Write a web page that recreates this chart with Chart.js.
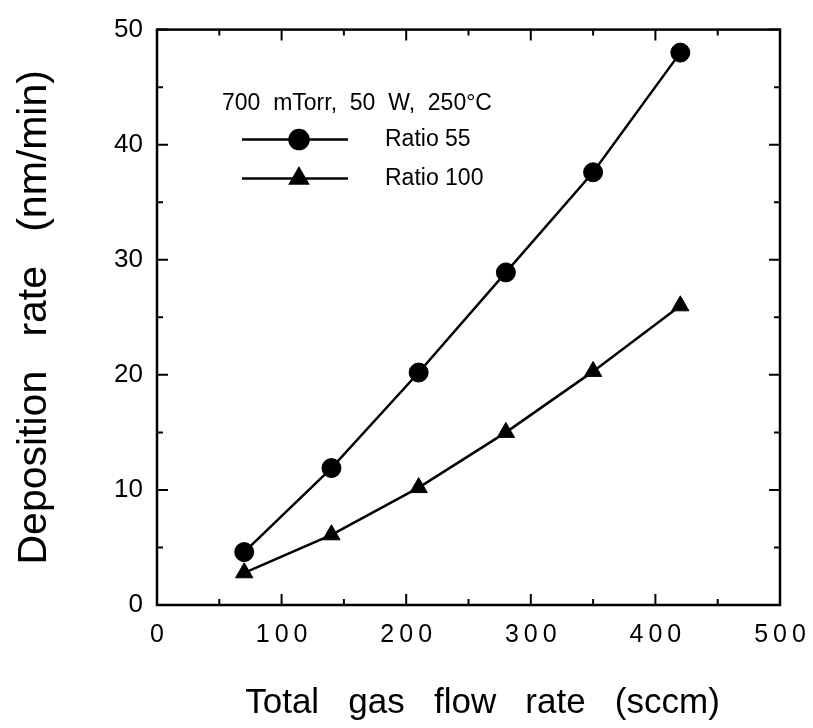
<!DOCTYPE html>
<html lang="en">
<head>
  <meta charset="UTF-8">
  <title>Deposition rate vs total gas flow rate</title>
  <script src="https://cdn.jsdelivr.net/npm/chart.js"></script>
  <style>
    html, body { margin: 0; padding: 0; background: #fff; }
    #wrap { width: 813px; height: 728px; }
  </style>
</head>
<body>
  <div id="wrap"><canvas id="depChart" width="813" height="728"></canvas></div>

  <script>
    // values
    const flowRate = [70, 140, 210, 280, 350, 420];
    const ratio55 = [4.6, 11.9, 20.2, 28.9, 37.6, 48.0];
    const ratio100 = [2.8, 6.1, 10.2, 15.0, 20.3, 26.0];
    const xTickLabels = ["0", "100", "200", "300", "400", "500"];
    const seriesNames = ["Ratio 55", "Ratio 100"];
    const conditions = "700  mTorr,  50  W,  250\u00b0C";
    const xTitle = "Total   gas   flow   rate   (sccm)";
    const yTitle = "Deposition   rate   (nm/min)";

    const FONT = "'Liberation Sans', Arial, sans-serif";

    const toPoints = ys => flowRate.map((x, i) => ({ x: x, y: ys[i] }));

    // frame, inward ticks, x labels, axis titles and the in-plot legend
    const framePlugin = {
      id: "frame",
      afterDraw(chart) {
        const ctx = chart.ctx;
        const a = chart.chartArea;
        const xs = chart.scales.x, ys = chart.scales.y;
        ctx.save();
        ctx.strokeStyle = "#000";
        ctx.fillStyle = "#000";
        ctx.lineWidth = 2.5;
        ctx.strokeRect(a.left, a.top, a.right - a.left, a.bottom - a.top);

        ctx.lineWidth = 2;
        ctx.beginPath();
        for (let v = 0; v <= 500; v += 50) {
          const px = xs.getPixelForValue(v);
          const len = v % 100 === 0 ? 11 : 6;
          ctx.moveTo(px, a.bottom); ctx.lineTo(px, a.bottom - len);
          ctx.moveTo(px, a.top); ctx.lineTo(px, a.top + len);
        }
        for (let v = 0; v <= 50; v += 5) {
          const py = ys.getPixelForValue(v);
          const len = v % 10 === 0 ? 11 : 6;
          ctx.moveTo(a.left, py); ctx.lineTo(a.left + len, py);
          ctx.moveTo(a.right, py); ctx.lineTo(a.right - len, py);
        }
        ctx.stroke();

        // x tick labels, widely tracked like the original
        ctx.font = "25px " + FONT;
        ctx.letterSpacing = "5px";
        ctx.textAlign = "center";
        ctx.textBaseline = "middle";
        xTickLabels.forEach(t => {
          ctx.fillText(t, xs.getPixelForValue(Number(t)) + 2.5, a.bottom + 30);
        });
        ctx.letterSpacing = "0px";

        // axis titles
        ctx.textBaseline = "alphabetic";
        ctx.font = "35px " + FONT;
        ctx.fillText(xTitle, (a.left + a.right) / 2 + 14, 713);
        ctx.save();
        ctx.translate(46, (a.top + a.bottom) / 2);
        ctx.rotate(-Math.PI / 2);
        ctx.font = "41px " + FONT;
        ctx.fillText(yTitle, 0, 0);
        ctx.restore();

        // legend
        ctx.font = "23px " + FONT;
        ctx.textAlign = "left";
        ctx.textBaseline = "middle";
        ctx.fillText(conditions, a.left + 65, a.top + 74);
        const rows = [a.top + 110, a.top + 149];
        chart.data.datasets.forEach((ds, i) => {
          const y = rows[i];
          ctx.lineWidth = 2.5;
          ctx.beginPath();
          ctx.moveTo(a.left + 85, y); ctx.lineTo(a.left + 191, y);
          ctx.stroke();
          Chart.helpers.drawPoint(ctx, {
            pointStyle: ds.pointStyle, radius: ds.pointRadius, rotation: 0, borderWidth: 1
          }, a.left + 142, y);
          ctx.fillText(ds.label, a.left + 228, y);
        });
        ctx.restore();
      }
    };

    new Chart(document.getElementById("depChart"), {
      type: "scatter",
      data: {
        datasets: [
          {
            label: seriesNames[0],
            data: toPoints(ratio55),
            showLine: true,
            borderColor: "#000",
            backgroundColor: "#000",
            borderWidth: 2.5,
            pointStyle: "circle",
            pointRadius: 9.5,
            pointBorderWidth: 1
          },
          {
            label: seriesNames[1],
            data: toPoints(ratio100),
            showLine: true,
            borderColor: "#000",
            backgroundColor: "#000",
            borderWidth: 2.5,
            pointStyle: "triangle",
            pointRadius: 10,
            pointBorderWidth: 1
          }
        ]
      },
      options: {
        responsive: false,
        animation: false,
        layout: { padding: { top: 23, right: 33, left: 0, bottom: 0 } },
        plugins: {
          legend: { display: false },
          tooltip: { enabled: false }
        },
        scales: {
          x: {
            type: "linear",
            min: 0, max: 500,
            grid: { display: false, drawTicks: false },
            border: { display: false },
            ticks: { display: false },
            afterFit: s => { s.height = 123; }
          },
          y: {
            min: 0, max: 50,
            grid: { display: false, drawTicks: false },
            border: { display: false },
            ticks: {
              stepSize: 10,
              padding: 14,
              color: "#000",
              font: { family: FONT, size: 26 }
            },
            afterFit: s => { s.width = 157; }
          }
        }
      },
      plugins: [framePlugin]
    });
  </script>
</body>
</html>
